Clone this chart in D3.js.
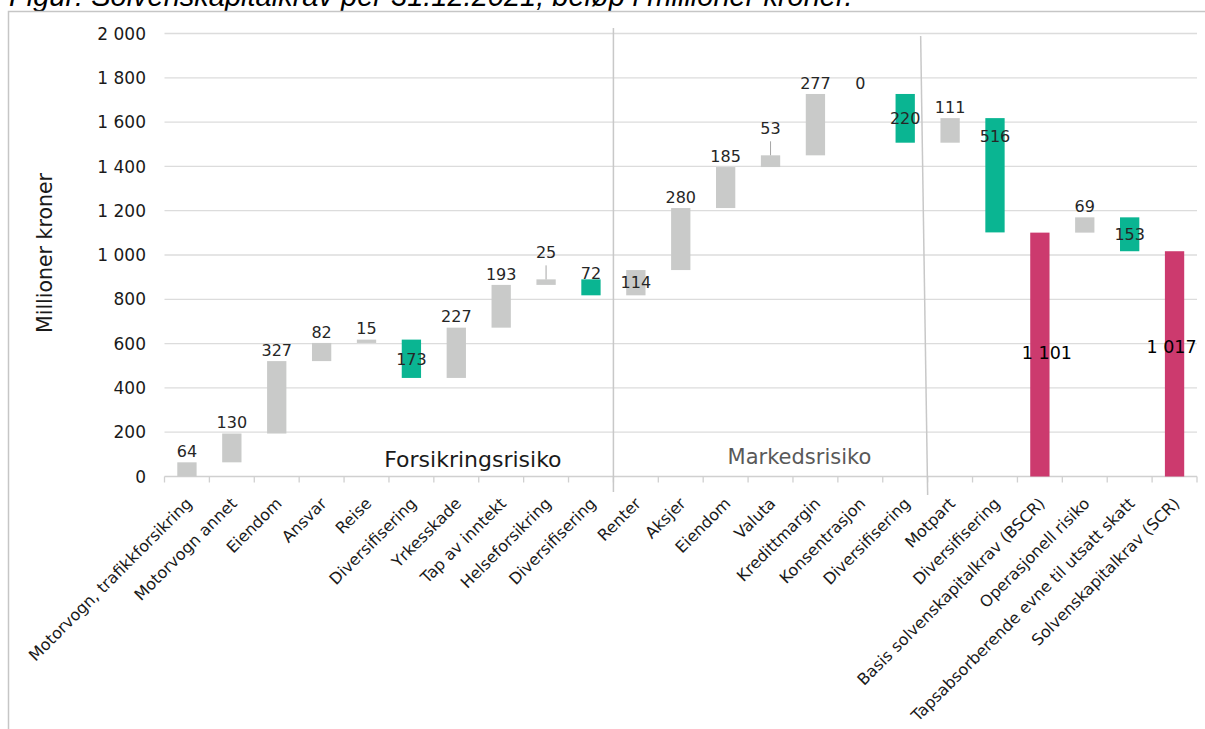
<!DOCTYPE html>
<html>
<head>
<meta charset="utf-8">
<script src="https://cdn.jsdelivr.net/npm/d3@7"></script>
<style>
  html, body { margin: 0; padding: 0; background: #fff; }
  svg { display: block; }
</style>
</head>
<body>
<svg id="chart" width="1205" height="729"></svg>
<script>
// ---- data ----
const categories = [
  "Motorvogn, trafikkforsikring", "Motorvogn annet", "Eiendom", "Ansvar", "Reise",
  "Diversifisering", "Yrkesskade", "Tap av inntekt", "Helseforsikring", "Diversifisering",
  "Renter", "Aksjer", "Eiendom", "Valuta", "Kredittmargin", "Konsentrasjon", "Diversifisering",
  "Motpart", "Diversifisering", "Basis solvenskapitalkrav (BSCR)", "Operasjonell risiko",
  "Tapsabsorberende evne til utsatt skatt", "Solvenskapitalkrav (SCR)"
];
const values = [64, 130, 327, 82, 15, -173, 227, 193, 25, -72,
  114, 280, 185, 53, 277, 0, -220,
  111, -516, 1101, 69, -153, 1017];
const barTypes = ["delta","delta","delta","delta","delta","delta","delta","delta","delta","delta",
  "delta","delta","delta","delta","delta","delta","delta",
  "delta","delta","total","delta","delta","total"];
const labelPlacement = ["above","above","above","above","above","center","above","above","leader","top",
  "center","above","above","leader","above","above","center",
  "above","inside","totalA","above","center","totalB"];
const yTicks = [0, 200, 400, 600, 800, 1000, 1200, 1400, 1600, 1800, 2000];
const sections = ["Forsikringsrisiko", "Markedsrisiko"];
const titleText = "Figur: Solvenskapitalkrav per 31.12.2021, beløp i millioner kroner.";
const yAxisTitle = "Millioner kroner";

// ---- layout ----
const svg = d3.select("#chart");
const pLeft = 164.5, pRight = 1197, pTop = 33.5, pBottom = 476.5;
const fmt = v => d3.format(",")(v).replace(/,/g, " ");
const colors = { up: "#C9CAC9", down: "#0AB592", total: "#CC3A6E" };
const font = "'DejaVu Sans', Verdana, sans-serif";

// running totals
let run = 0;
const bars = values.map((v, i) => {
  let y0, y1, kind;
  if (barTypes[i] === "total") { y0 = 0; y1 = v; run = v; kind = "total"; }
  else { y0 = run; y1 = run + v; run = y1; kind = v < 0 ? "down" : "up"; }
  return { i, name: categories[i], v, lo: Math.min(y0, y1), hi: Math.max(y0, y1), kind, place: labelPlacement[i] };
});

const x = d3.scaleBand().domain(d3.range(categories.length)).range([pLeft, pRight])
  .paddingInner(0.57).paddingOuter(0.285);
const step = x.step();
const y = d3.scaleLinear().domain([0, 2000]).range([pBottom, pTop]);

// title (cut off at top)
svg.append("text").attr("x", 9).attr("y", 6)
  .attr("font-family", "'Liberation Sans', Arial, sans-serif").attr("font-style", "italic")
  .attr("font-size", 29).attr("fill", "#000").text(titleText);

// frame
svg.append("rect").attr("x", 8.5).attr("y", 11.5).attr("width", 1200).attr("height", 730)
  .attr("fill", "none").attr("stroke", "#c6c6c6").attr("stroke-width", 1.5);

// gridlines
svg.append("g").selectAll("line").data(yTicks.filter(t => t > 0)).join("line")
  .attr("x1", pLeft).attr("x2", pRight).attr("y1", d => y(d)).attr("y2", d => y(d))
  .attr("stroke", "#dcdcdc").attr("stroke-width", 1.3);

// y tick labels
svg.append("g").selectAll("text").data(yTicks).join("text")
  .attr("x", 146).attr("y", d => y(d)).attr("dy", "0.36em").attr("text-anchor", "end")
  .attr("font-family", font).attr("font-size", 17).attr("fill", "#1a1a1a").text(fmt);

// y axis title
svg.append("text").attr("transform", "translate(52,253) rotate(-90)")
  .attr("text-anchor", "middle").attr("font-family", font).attr("font-size", 20.5)
  .attr("fill", "#1a1a1a").text(yAxisTitle);

// x axis line + ticks
svg.append("line").attr("x1", pLeft).attr("x2", pRight).attr("y1", pBottom).attr("y2", pBottom)
  .attr("stroke", "#d0d0d0").attr("stroke-width", 1.5);
svg.append("g").selectAll("line").data(d3.range(categories.length + 1)).join("line")
  .attr("x1", d => pLeft + d * step).attr("x2", d => pLeft + d * step)
  .attr("y1", pBottom).attr("y2", pBottom + 6).attr("stroke", "#d0d0d0").attr("stroke-width", 1.3);

// section separators
const sep1 = pLeft + 10 * step, sep2 = pLeft + 17 * step;
svg.append("line").attr("x1", sep1).attr("x2", sep1).attr("y1", 28).attr("y2", 492)
  .attr("stroke", "#c8c8c8").attr("stroke-width", 1.5);
svg.append("line").attr("x1", sep2 - 7).attr("x2", sep2).attr("y1", 36).attr("y2", 495)
  .attr("stroke", "#c8c8c8").attr("stroke-width", 1.5);

// section labels
svg.append("text").attr("x", sep1 - 140.5).attr("y", 467).attr("text-anchor", "middle")
  .attr("font-family", font).attr("font-size", 22).attr("fill", "#1a1a1a").text(sections[0]);
svg.append("text").attr("x", sep1 + 186).attr("y", 464).attr("text-anchor", "middle")
  .attr("font-family", font).attr("font-size", 21).attr("fill", "#595959").text(sections[1]);

// bars
svg.append("g").selectAll("rect").data(bars.filter(b => b.v !== 0)).join("rect")
  .attr("x", d => x(d.i)).attr("width", x.bandwidth())
  .attr("y", d => y(d.hi)).attr("height", d => y(d.lo) - y(d.hi))
  .attr("fill", d => colors[d.kind]);

// data labels
const placeRules = {
  above:  { from: "top", dy: -11, dx: 0 },
  top:    { from: "top", dy: -6, dx: 0 },
  leader: { from: "top", dy: -27, dx: 0 },
  inside: { from: "top", dy: 18, dx: 0 },
  center: { from: "mid", dy: 0, dx: 0 },
  totalA: { from: "mid", dy: -2, dx: 7 },
  totalB: { from: "mid", dy: -17, dx: -3 }
};
function labelY(d) {
  const r = placeRules[d.place];
  const t = y(d.hi), b = y(d.lo);
  return (r.from === "top" ? t : (t + b) / 2) + r.dy;
}
const cxOf = d => x(d.i) + x.bandwidth() / 2;
const lbl = svg.append("g");
bars.filter(d => d.place === "leader").forEach(d => {
  lbl.append("line").attr("x1", cxOf(d)).attr("x2", cxOf(d))
    .attr("y1", labelY(d) + 13).attr("y2", y(d.hi)).attr("stroke", "#a6a6a6").attr("stroke-width", 1);
});
lbl.selectAll("text").data(bars).join("text")
  .attr("x", d => cxOf(d) + placeRules[d.place].dx)
  .attr("y", d => labelY(d)).attr("dy", "0.36em").attr("text-anchor", "middle")
  .attr("font-family", font)
  .attr("font-size", d => d.kind === "total" ? 17.5 : 16)
  .attr("fill", d => d.kind === "total" ? "#000" : "#262626")
  .text(d => fmt(Math.abs(d.v)));

// category labels
svg.append("g").selectAll("text").data(bars).join("text")
  .attr("transform", d => `translate(${cxOf(d) + 6},${pBottom + 28}) rotate(-45)`)
  .attr("text-anchor", "end").attr("font-family", font).attr("font-size", 16)
  .attr("fill", "#1a1a1a").text(d => d.name);
</script>
</body>
</html>
